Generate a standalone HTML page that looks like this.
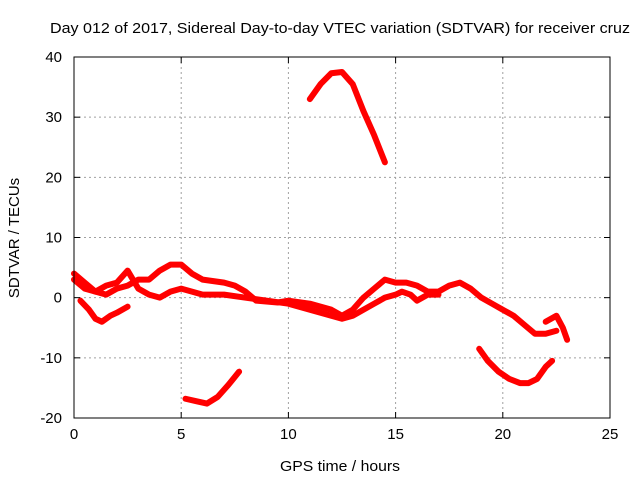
<!DOCTYPE html>
<html><head><meta charset="utf-8"><style>
html,body{margin:0;padding:0;background:#fff}
svg{display:block;font-family:"Liberation Sans",sans-serif}
</style></head><body>
<svg id="chart" width="640" height="480">
<text x="340" y="33" font-size="15" text-anchor="middle" textLength="580" lengthAdjust="spacingAndGlyphs">Day 012 of 2017, Sidereal Day-to-day VTEC variation (SDTVAR) for receiver cruz</text>
<text x="340" y="471" font-size="15" text-anchor="middle" textLength="120" lengthAdjust="spacingAndGlyphs">GPS time / hours</text>
<text transform="translate(19,238) rotate(-90)" font-size="15" text-anchor="middle">SDTVAR / TECUs</text>
<g id="grid"></g><g id="series"></g><g id="axes"></g>
</svg>
<script>
const xTicks=[0,5,10,15,20,25];
const yTicks=[-20,-10,0,10,20,30,40];
const seriesTopArc=[[11.0,33],[11.5,35.5],[12.0,37.3],[12.5,37.5],[13.0,35.5],[13.5,31],[14.0,27],[14.5,22.5]];
const seriesLowLeft=[[5.2,-16.8],[5.7,-17.2],[6.2,-17.6],[6.7,-16.5],[7.2,-14.5],[7.7,-12.3]];
const seriesLowRight=[[18.9,-8.5],[19.3,-10.5],[19.8,-12.3],[20.3,-13.5],[20.8,-14.2],[21.2,-14.2],[21.6,-13.5],[22.0,-11.5],[22.3,-10.5]];
const seriesMainA=[[0,4],[0.5,2.5],[1,1],[1.5,0.5],[2,1.5],[2.5,2],[3,3],[3.5,3],[4,4.5],[4.5,5.5],[5,5.5],[5.5,4],[6,3],[7,2.5],[7.5,2],[8,1],[8.5,-0.5],[9.5,-0.8],[10,-0.5],[11,-1],[12,-2],[12.5,-3],[13,-2],[13.5,0],[14,1.5],[14.5,3],[15,2.5],[15.5,2.5],[16,2],[16.5,1],[17,1],[17.5,2],[18,2.5],[18.5,1.5],[19,0],[19.5,-1],[20,-2],[20.5,-3],[21,-4.5],[21.5,-6],[22,-6],[22.5,-5.5]];
const seriesMainB=[[0.3,-0.5],[0.7,-2],[1.0,-3.5],[1.3,-4],[1.7,-3],[2,-2.5],[2.5,-1.5]];
const seriesMainC=[[0,3],[0.5,1.5],[1,1],[1.5,2],[2,2.5],[2.5,4.5],[3,1.5],[3.5,0.5],[4,0],[4.5,1],[5,1.5],[5.5,1],[6,0.5],[7,0.5],[8,0],[9,-0.5],[10,-1],[11,-2],[12,-3],[12.5,-3.5],[13,-3],[14,-1],[14.5,0],[15,0.5],[15.3,1],[15.7,0.5],[16,-0.5],[16.5,0.5],[17,0.5]];
const seriesTail=[[22,-4],[22.5,-3],[22.8,-5],[23,-7]];
const allSeries=[seriesTopArc,seriesLowLeft,seriesLowRight,seriesMainA,seriesMainB,seriesMainC,seriesTail];
const seriesNames=['series-top-arc','series-low-left','series-low-right','series-main-a','series-main-b','series-main-c','series-tail'];
const X0=74,X1=610,Y0=418,Y1=57;
const sx=v=>X0+(v-0)/(25-0)*(X1-X0);
const sy=v=>Y0-(v+20)/(60)*(Y0-Y1);
const NS='http://www.w3.org/2000/svg';
const grid=document.getElementById('grid'),axes=document.getElementById('axes'),ser=document.getElementById('series');
function mk(tag,attrs,parent){const e=document.createElementNS(NS,tag);for(const k in attrs)e.setAttribute(k,attrs[k]);parent.appendChild(e);return e;}
xTicks.forEach(t=>{const x=sx(t);
 if(t>0&&t<25){const g=mk('line',{x1:x,x2:x,y1:Y1,y2:Y0,stroke:'#a0a0a0','stroke-dasharray':'2,3'},grid);
 
 }
 mk('line',{x1:x,x2:x,y1:Y0,y2:Y0-6,stroke:'#000'},axes);mk('line',{x1:x,x2:x,y1:Y1,y2:Y1+6,stroke:'#000'},axes);
 const l=mk('text',{x:x,y:Y0+21,'font-size':15,'text-anchor':'middle'},axes);l.textContent=t;
 
 });
yTicks.forEach(t=>{const y=sy(t);
 if(t>-20&&t<40){const g=mk('line',{x1:X0,x2:X1,y1:y,y2:y,stroke:'#a0a0a0','stroke-dasharray':'2,3'},grid);
 
 }
 mk('line',{x1:X0,x2:X0+6,y1:y,y2:y,stroke:'#000'},axes);mk('line',{x1:X1,x2:X1-6,y1:y,y2:y,stroke:'#000'},axes);
 const l=mk('text',{x:X0-12,y:y+5,'font-size':15,'text-anchor':'end'},axes);l.textContent=t;
 
 });
const frame=mk('rect',{x:X0,y:Y1,width:X1-X0,height:Y0-Y1,fill:'none',stroke:'#000'},axes);


allSeries.forEach((s,i)=>{
 const p=mk('polyline',{points:s.map(d=>sx(d[0])+','+sy(d[1])).join(' '),fill:'none',stroke:'#ff0000','stroke-width':6,'stroke-linejoin':'round','stroke-linecap':'round'},ser);
 
 
});
</script>
</body></html>
